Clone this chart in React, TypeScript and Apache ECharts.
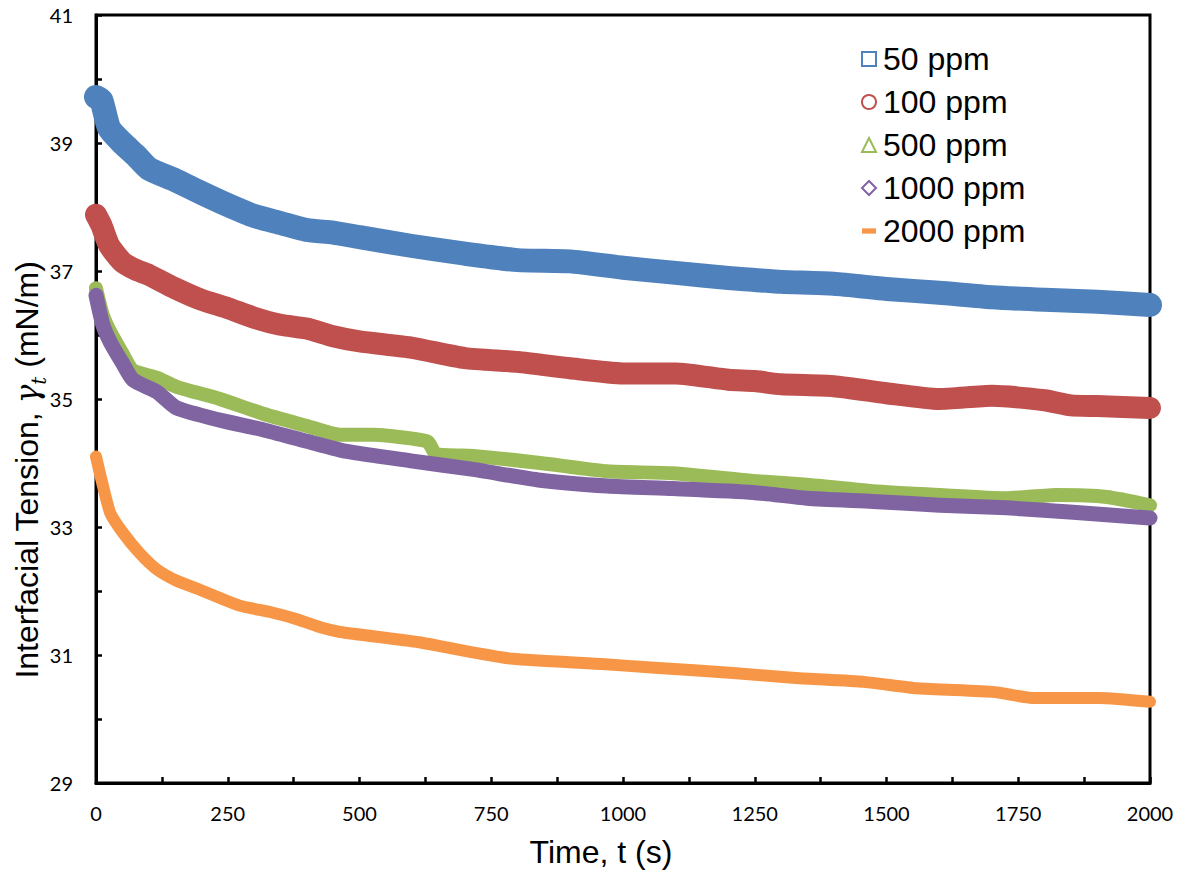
import React, { useEffect, useRef } from "react";
import * as echarts from "echarts";

const xTicksInterval = 125;
const yTicksInterval = 1;

const seriesNames = ["50 ppm", "100 ppm", "500 ppm", "1000 ppm", "2000 ppm"];
const seriesColors = ["#4f81bd", "#c0504d", "#9bbb59", "#8064a2", "#f79646"];
const xTitle = "Time, t (s)";
const yTitleParts = ["Interfacial Tension, ", "γ", "t", " (mN/m)"];

const t50 = [0, 10, 25, 50, 75, 100, 150, 200, 250, 300, 350, 400, 450, 500, 600, 700, 800, 900, 1000, 1100, 1200, 1250, 1300, 1400, 1500, 1600, 1700, 1800, 1900, 2000];
const v50 = [39.72, 39.67, 39.23, 39.0, 38.81, 38.6, 38.42, 38.22, 38.03, 37.86, 37.75, 37.64, 37.6, 37.53, 37.39, 37.27, 37.17, 37.15, 37.05, 36.97, 36.89, 36.86, 36.83, 36.8, 36.72, 36.66, 36.59, 36.55, 36.52, 36.47];

const t100 = [0, 10, 25, 50, 75, 100, 150, 200, 250, 300, 350, 400, 450, 500, 600, 700, 800, 900, 1000, 1100, 1200, 1250, 1300, 1400, 1500, 1600, 1700, 1800, 1850, 1900, 2000];
const v100 = [37.88, 37.72, 37.4, 37.14, 37.02, 36.94, 36.73, 36.55, 36.42, 36.27, 36.16, 36.1, 35.98, 35.9, 35.8, 35.64, 35.58, 35.48, 35.4, 35.4, 35.3, 35.28, 35.23, 35.2, 35.09, 35.0, 35.05, 34.98, 34.9, 34.89, 34.86];

const t500 = [0, 13, 27, 49, 70, 116, 153, 235, 317, 400, 463, 526, 601, 630, 645, 716, 843, 970, 1095, 1247, 1349, 1474, 1601, 1728, 1823, 1918, 2000];
const v500 = [36.73, 36.31, 36.05, 35.73, 35.45, 35.33, 35.19, 35.0, 34.77, 34.58, 34.44, 34.44, 34.38, 34.33, 34.14, 34.11, 34.0, 33.87, 33.84, 33.72, 33.66, 33.56, 33.5, 33.45, 33.5, 33.47, 33.34];

const t1000 = [0, 13, 27, 49, 70, 116, 153, 235, 317, 400, 476, 601, 716, 843, 970, 1095, 1247, 1349, 1474, 1601, 1728, 1854, 2000];
const v1000 = [36.62, 36.16, 35.89, 35.58, 35.3, 35.11, 34.86, 34.67, 34.52, 34.34, 34.18, 34.03, 33.9, 33.73, 33.64, 33.6, 33.54, 33.45, 33.4, 33.34, 33.3, 33.23, 33.14];

const t2000 = [0, 10, 27, 52, 83, 115, 153, 197, 241, 273, 336, 381, 431, 463, 613, 702, 791, 960, 1060, 1209, 1328, 1458, 1558, 1706, 1776, 1905, 2000];
const v2000 = [34.1, 33.75, 33.22, 32.9, 32.59, 32.34, 32.16, 32.02, 31.87, 31.77, 31.66, 31.56, 31.42, 31.36, 31.2, 31.06, 30.94, 30.86, 30.8, 30.72, 30.64, 30.58, 30.48, 30.42, 30.33, 30.33, 30.27];

const times = [t50, t100, t500, t1000, t2000];
const values = [v50, v100, v500, v1000, v2000];
const bandWidths = [24, 22, 14, 15, 12];
const legendIcons = ["rect", "circle", "triangle", "diamond", "path://M0,0 L16,0 L16,6 L0,6 Z"];

export default function App() {
  const ref = useRef<HTMLDivElement>(null);
  useEffect(() => {
    if (!ref.current) return;
    const chart = echarts.init(ref.current, undefined, { renderer: "svg" });
    const series = seriesNames.map((name, i) => ({
      name,
      type: "line",
      data: times[i].map((t, j) => [t, values[i][j]]),
      showSymbol: false,
      symbol: "none",
      smooth: 0.2,
      lineStyle: { color: seriesColors[i], width: bandWidths[i], cap: "round", join: "round" },
      itemStyle: { color: seriesColors[i] },
      z: 2 + i,
    }));
    chart.setOption({
      animation: false,
      backgroundColor: "#ffffff",
      grid: {
        left: 96,
        right: 29,
        top: 15,
        bottom: 87,
        containLabel: false,
        outerBoundsMode: "none",
        show: true,
        borderColor: "#000",
        borderWidth: 3,
        backgroundColor: "transparent",
      },
      legend: {
        orient: "vertical",
        left: 861,
        top: 43,
        padding: 0,
        itemGap: 11,
        itemWidth: 14,
        itemHeight: 14,
        textStyle: { fontFamily: "Liberation Sans", fontSize: 32, color: "#000", lineHeight: 31.5, padding: [0, 0, 0, 2] },
        data: seriesNames.map((name, i) => ({
          name,
          icon: legendIcons[i],
          itemStyle:
            i === 4
              ? { color: seriesColors[i], borderWidth: 0 }
              : { color: "rgba(255,255,255,0)", borderColor: seriesColors[i], borderWidth: 2 },
        })),
      },
      graphic: [
        {
          type: "text",
          x: 601,
          y: 852,
          style: {
            text: xTitle,
            font: '32px "Liberation Sans"',
            fill: "#000",
            align: "center",
            verticalAlign: "middle",
          },
        },
        {
          type: "text",
          x: 27,
          y: 470,
          rotation: Math.PI / 2,
          style: {
            text: `{a|${yTitleParts[0]}}{g|${yTitleParts[1]}}{s|${yTitleParts[2]}}{a|${yTitleParts[3]}}`,
            fill: "#000",
            align: "center",
            verticalAlign: "middle",
            rich: {
              a: { fontFamily: "Liberation Sans", fontSize: 32, fill: "#000" },
              g: { fontFamily: "DejaVu Serif", fontStyle: "italic", fontSize: 31, fill: "#000" },
              s: { fontFamily: "DejaVu Serif", fontStyle: "italic", fontSize: 20, fill: "#000", verticalAlign: "bottom", padding: [0, 0, -6, 0] },
            },
          },
        },
      ],
      xAxis: {
        type: "value",
        min: 0,
        max: 2000,
        interval: xTicksInterval,
        axisLine: { show: true, lineStyle: { color: "#000", width: 3 } },
        axisTick: { show: true, inside: true, length: 6, lineStyle: { color: "#000", width: 2.5 } },
        splitLine: { show: false },
        axisLabel: {
          margin: 20,
          fontFamily: "Lato",
          fontSize: 20,
          color: "#000",
          formatter: (v: number) => (v % 250 === 0 ? String(v) : ""),
        },
      },
      yAxis: {
        type: "value",
        min: 29,
        max: 41,
        interval: yTicksInterval,
        axisLine: { show: true, lineStyle: { color: "#000", width: 3 } },
        axisTick: { show: true, inside: true, length: 6, lineStyle: { color: "#000", width: 2.5 } },
        splitLine: { show: false },
        axisLabel: {
          margin: 23,
          fontFamily: "Lato",
          fontSize: 20,
          color: "#000",
          formatter: (v: number) => (Math.round(v) % 2 === 1 ? String(v) : ""),
        },
      },
      series,
    });
    return () => chart.dispose();
  }, []);
  return (
    <div
      ref={ref}
      style={{ position: "absolute", left: 0, top: 0, width: 1179, height: 870, background: "#fff" }}
    />
  );
}
